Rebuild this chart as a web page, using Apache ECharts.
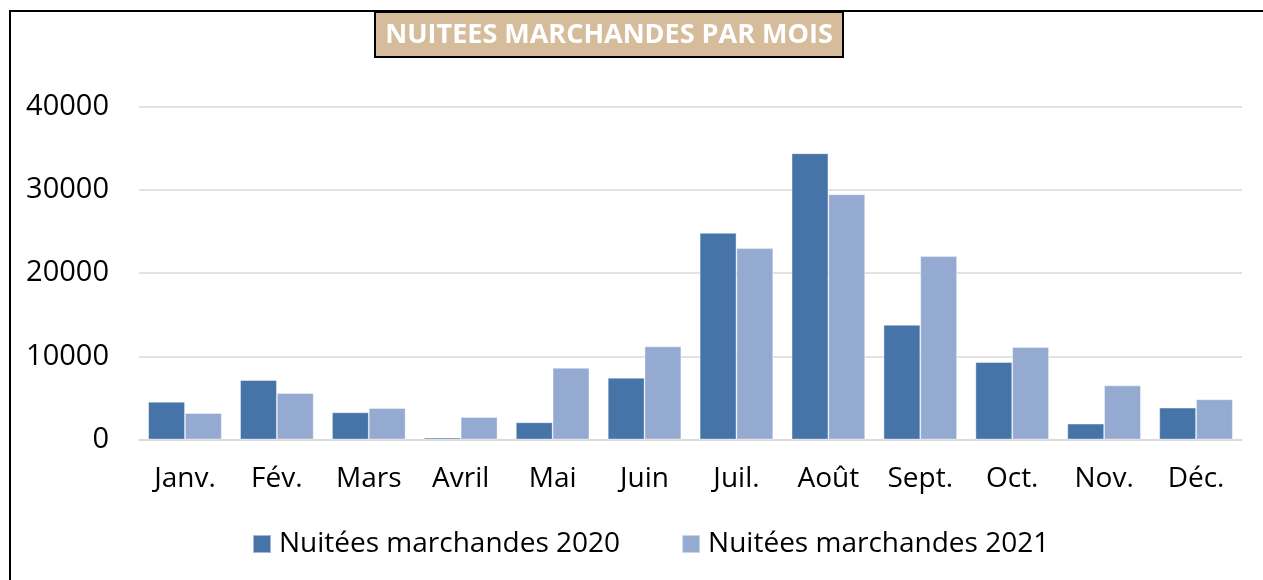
<!DOCTYPE html>
<html>
<head>
<meta charset="utf-8">
<script src="https://cdn.jsdelivr.net/npm/echarts@6/dist/echarts.min.js"></script>
<style>
html,body{margin:0;padding:0;background:#fff;}
#chart{width:1263px;height:580px;}
</style>
</head>
<body>
<div id="chart"></div>
<script>
const titleText = 'NUITEES MARCHANDES PAR MOIS';
const categories = ['Janv.', 'Fév.', 'Mars', 'Avril', 'Mai', 'Juin', 'Juil.', 'Août', 'Sept.', 'Oct.', 'Nov.', 'Déc.'];
const seriesNames = ['Nuitées marchandes 2020', 'Nuitées marchandes 2021'];
const values2020 = [4540, 7140, 3260, 220, 2060, 7420, 24830, 34400, 13780, 9300, 1900, 3820];
const values2021 = [3180, 5580, 3780, 2700, 8620, 11190, 22990, 29470, 22030, 11100, 6500, 4830];
const yTicks = [0, 10000, 20000, 30000, 40000];

const FONT = '"Open Sans", "Liberation Sans", sans-serif';
const chart = echarts.init(document.getElementById('chart'), null, {renderer: 'canvas'});
chart.setOption({
  animation: false,
  backgroundColor: '#ffffff',
  grid: {left: 139, right: 21, top: 106.7, bottom: 140.5, containLabel: false},
  graphic: [
    {type: 'rect', shape: {x: 10, y: 11, width: 1300, height: 620}, style: {fill: 'none', stroke: '#000', lineWidth: 2}, silent: true, z: 0},
    {type: 'rect', shape: {x: 375, y: 12, width: 468, height: 45}, style: {fill: '#D5BD9B', stroke: '#000', lineWidth: 2}, z: 10},
    {type: 'text', x: 609, y: 35, z: 11, style: {text: titleText, fill: '#ffffff', font: 'bold 27px ' + FONT, align: 'center', verticalAlign: 'middle'}}
  ],
  legend: {
    data: seriesNames,
    left: 247, top: 524,
    itemWidth: 18, itemHeight: 18, itemGap: 61,
    icon: 'rect',
    textStyle: {fontFamily: FONT, fontSize: 28, lineHeight: 30, color: '#000', padding: [0, 0, 0, 3]}
  },
  xAxis: {
    type: 'category',
    data: categories,
    axisLine: {show: true, lineStyle: {color: '#d9d9d9', width: 1.5}},
    axisTick: {show: false},
    axisLabel: {fontFamily: FONT, fontSize: 28, color: '#000', margin: 26}
  },
  yAxis: {
    type: 'value',
    min: 0, max: 40000, interval: 10000,
    axisLine: {show: false},
    axisTick: {show: false},
    splitLine: {lineStyle: {color: '#d9d9d9', width: 1.5}},
    axisLabel: {fontFamily: FONT, fontSize: 29, color: '#000', margin: 30,
      formatter: v => yTicks.includes(v) ? String(v) : ''}
  },
  series: [
    {name: seriesNames[0], type: 'bar', data: values2020, barGap: '0%', barCategoryGap: '20%',
      itemStyle: {color: '#4674A8', borderColor: 'rgba(255,255,255,0.5)', borderWidth: 0.8}},
    {name: seriesNames[1], type: 'bar', data: values2021, barGap: '0%', barCategoryGap: '20%',
      itemStyle: {color: '#95AAD0', borderColor: 'rgba(255,255,255,0.5)', borderWidth: 0.8}}
  ]
});
</script>
</body>
</html>
